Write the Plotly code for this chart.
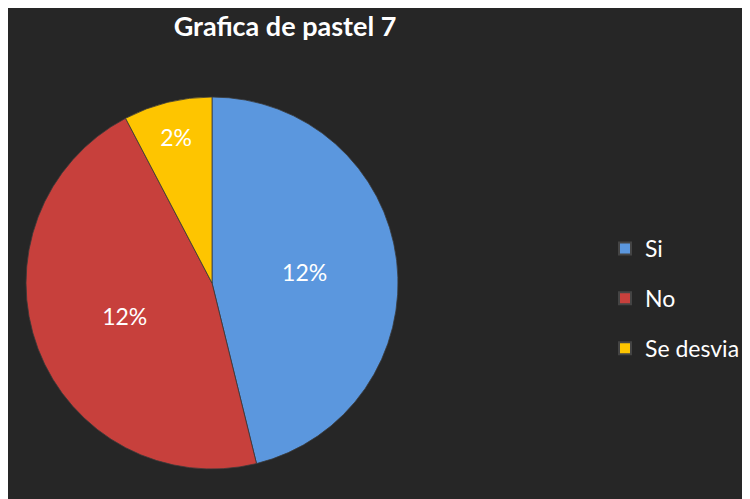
import plotly.graph_objects as go

categories = ["Si", "No", "Se desvia"]
values = [0.12, 0.12, 0.02]
colors = ["#5b97de", "#c7403c", "#fec500"]
title_text = "Grafica de pastel 7"

W, H = 750, 499
bg = "#262626"

cx, cy, r = 204, 499 - 275, 186  # pie centre / radius in figure pixels (from bottom)

fig = go.Figure()
fig.add_trace(go.Pie(
    labels=categories,
    values=values,
    sort=False,
    direction="clockwise",
    rotation=0,
    marker=dict(colors=colors, line=dict(color="#3a3a3a", width=0.8)),
    texttemplate="%{value:.0%}",
    textposition="inside",
    insidetextorientation="horizontal",
    textfont=dict(family="Lato", size=23, color="white"),
    domain=dict(x=[(cx - r) / W, (cx + r) / W], y=[(cy - r) / H, (cy + r) / H]),
    showlegend=False,
))

# legend entries (one per category, spaced like the original)
for name, col in zip(categories, colors):
    fig.add_trace(go.Scatter(
        x=[None], y=[None], mode="markers", name=name, legendgroup=name,
        marker=dict(symbol="square", size=13, color=col, line=dict(color="#444", width=0.5)),
    ))

fig.update_layout(
    width=W, height=H,
    margin=dict(l=0, r=0, t=0, b=0),
    paper_bgcolor=bg, plot_bgcolor=bg,
    xaxis=dict(visible=False), yaxis=dict(visible=False),
    title=dict(text=title_text, x=277 / W, xanchor="center", y=1 - 19 / H, yanchor="middle",
               font=dict(family="Lato", size=27, color="white", weight="bold")),
    legend=dict(x=597 / W, xanchor="left", y=1 - 219 / H, yanchor="top",
                font=dict(family="Lato", size=23, color="white"),
                tracegroupgap=17, bgcolor="rgba(0,0,0,0)", traceorder="grouped",
                itemsizing="constant"),
)

fig.write_html("out.html")
